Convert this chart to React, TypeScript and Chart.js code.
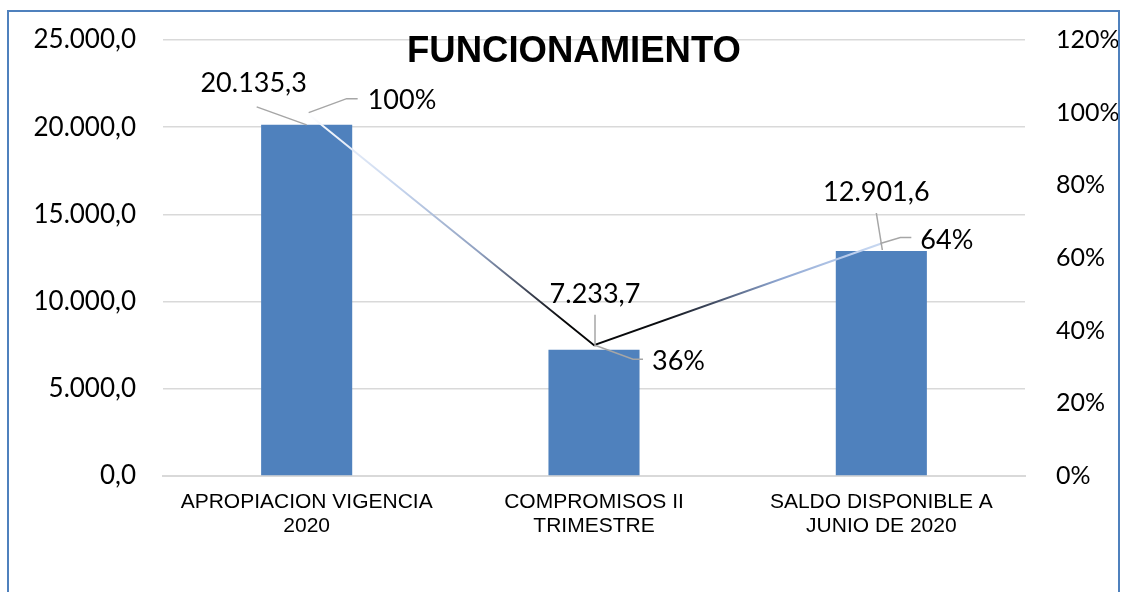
import React, { useEffect, useRef } from 'react';
import { Chart, registerables } from 'chart.js';

Chart.register(...registerables);

// ---- data ----
const categories: string[][] = [
  ['APROPIACION VIGENCIA', '2020'],
  ['COMPROMISOS II', 'TRIMESTRE'],
  ['SALDO DISPONIBLE A', 'JUNIO DE 2020'],
];
const amounts: number[] = [20135.3, 7233.7, 12901.6];
const percents: number[] = [100, 36, 64];
const chartTitle = 'FUNCIONAMIENTO';
const leftAxisMax = 25000;
const leftAxisStep = 5000;
const rightAxisMax = 120;
const rightAxisStep = 20;

// ---- styles / label placement ----
const BAR_COLOR = '#4F81BD';
const GRID_COLOR = '#D9D9D9';
const LEADER_COLOR = '#A6A6A6';
const NUM_FONT = 'Lato, "Open Sans", sans-serif';
const CAT_FONT = '"Liberation Sans", Arial, sans-serif';

const barLabelPlace = [
  { dx: -53, dy: -33, lead: [[-50, -18], [0, 0]] },
  { dx: 1, dy: -47, lead: [[1, -35], [1, -3]] },
  { dx: -5, dy: -50, lead: [[-5, -38], [1, -1]] },
];
const pctLabelPlace = [
  { dx: 61, dy: -4, lead: [[2, 0], [40, -14], [51, -14]] },
  { dx: 58, dy: 25, lead: [[1, 0], [39, 14], [49, 14]] },
  { dx: 39, dy: 6, lead: [[-1, 0], [19, -6], [30, -6]] },
];

function fmtEs(v: number, dec: number): string {
  const [i, d] = v.toFixed(dec).split('.');
  const ip = i.replace(/\B(?=(\d{3})+(?!\d))/g, '.');
  return d ? ip + ',' + d : ip;
}

const labelPlugin = {
  id: 'customLabels',
  afterDatasetsDraw(chart: any) {
    const ctx = chart.ctx as CanvasRenderingContext2D;
    const xs = chart.scales.x;
    const yl = chart.scales.y;
    const yr = chart.scales.y1;
    ctx.save();
    ctx.strokeStyle = LEADER_COLOR;
    ctx.lineWidth = 1.5;
    ctx.fillStyle = '#000';
    ctx.textBaseline = 'alphabetic';
    ctx.font = `27px ${NUM_FONT}`;
    amounts.forEach((v, i) => {
      const px = xs.getPixelForValue(i);
      const py = yl.getPixelForValue(v);
      const o = barLabelPlace[i];
      ctx.beginPath();
      o.lead.forEach(([lx, ly], k) => (k ? ctx.lineTo(px + lx, py + ly) : ctx.moveTo(px + lx, py + ly)));
      ctx.stroke();
      ctx.textAlign = 'center';
      ctx.fillText(fmtEs(v, 1), px + o.dx, py + o.dy);
    });
    percents.forEach((v, i) => {
      const px = xs.getPixelForValue(i);
      const py = yr.getPixelForValue(v);
      const o = pctLabelPlace[i];
      ctx.beginPath();
      o.lead.forEach(([lx, ly], k) => (k ? ctx.lineTo(px + lx, py + ly) : ctx.moveTo(px + lx, py + ly)));
      ctx.stroke();
      ctx.textAlign = 'left';
      ctx.fillText(`${Math.round(v)}%`, px + o.dx, py + o.dy);
    });
    ctx.restore();
  },
  afterDraw(chart: any) {
    const ctx = chart.ctx as CanvasRenderingContext2D;
    ctx.save();
    ctx.font = `bold 36.5px ${CAT_FONT}`;
    ctx.fillStyle = '#000';
    ctx.textAlign = 'center';
    ctx.textBaseline = 'alphabetic';
    ctx.fillText(chartTitle, 565, 50);
    ctx.restore();
  },
};

function lineGradient(context: any) {
  const chart = context.chart;
  const xs = chart.scales?.x;
  if (!chart.chartArea || !xs) return '#000';
  const x0 = xs.getPixelForValue(0);
  const x2 = xs.getPixelForValue(categories.length - 1);
  const g = chart.ctx.createLinearGradient(x0, 0, x2, 0);
  g.addColorStop(0, '#FFFFFF');
  g.addColorStop(0.16, '#C6D5EE');
  g.addColorStop(0.3, '#8FA0C0');
  g.addColorStop(0.39, '#3A4050');
  g.addColorStop(0.45, '#050505');
  g.addColorStop(0.62, '#0A0C10');
  g.addColorStop(0.72, '#4A5670');
  g.addColorStop(0.82, '#8DA5D0');
  g.addColorStop(0.95, '#BCCFEE');
  g.addColorStop(1, '#C8D8F0');
  return g;
}

function noVerticalPad(scale: any) {
  scale.paddingTop = 0;
  scale.paddingBottom = 0;
}

export default function App() {
  const ref = useRef<HTMLCanvasElement | null>(null);

  useEffect(() => {
    if (!ref.current) return;
    const chart = new Chart(ref.current, {
      type: 'bar',
      data: {
        labels: categories,
        datasets: [
          {
            type: 'line',
            label: 'pct',
            data: percents,
            yAxisID: 'y1',
            borderColor: lineGradient,
            borderWidth: 2,
            pointRadius: 0,
            tension: 0,
            fill: false,
            order: 0,
          } as any,
          {
            type: 'bar',
            label: 'amount',
            data: amounts,
            yAxisID: 'y',
            backgroundColor: BAR_COLOR,
            borderWidth: 0,
            categoryPercentage: 1,
            barPercentage: 0.317,
            order: 1,
          },
        ],
      },
      options: {
        responsive: false,
        animation: false,
        devicePixelRatio: 1,
        layout: { padding: { top: 28, left: 0, right: 0, bottom: 0 } },
        plugins: {
          legend: { display: false },
          tooltip: { enabled: false },
          title: { display: false },
        },
        scales: {
          x: {
            offset: true,
            grid: { display: false, drawTicks: false },
            border: { display: true, color: GRID_COLOR, width: 2 },
            ticks: {
              color: '#000',
              padding: 14,
              maxRotation: 0,
              autoSkip: false,
              font: { family: CAT_FONT, size: 21, lineHeight: 1.15 },
            },
            afterFit(scale: any) {
              scale.height = 116;
            },
          },
          y: {
            position: 'left',
            min: 0,
            max: leftAxisMax,
            grid: { color: GRID_COLOR, lineWidth: 1.5, drawTicks: false },
            border: { display: false },
            ticks: {
              stepSize: leftAxisStep,
              color: '#000',
              padding: 27,
              font: { family: NUM_FONT, size: 26 },
              callback: (v: any) => fmtEs(Number(v), 1),
            },
            afterFit(scale: any) {
              scale.width = 154;
              noVerticalPad(scale);
            },
          },
          y1: {
            position: 'right',
            min: 0,
            max: rightAxisMax,
            grid: { display: false, drawTicks: false },
            border: { display: false },
            ticks: {
              stepSize: rightAxisStep,
              color: '#000',
              padding: 31,
              font: { family: NUM_FONT, size: 25 },
              callback: (v: any) => `${v}%`,
            },
            afterFit(scale: any) {
              scale.width = 93;
              noVerticalPad(scale);
            },
          },
        },
      },
      plugins: [labelPlugin],
    });
    return () => chart.destroy();
  }, []);

  return (
    <div
      style={{
        position: 'fixed',
        left: 7,
        top: 10,
        width: 1113,
        height: 582,
        boxSizing: 'border-box',
        borderLeft: '2px solid #4F81BD',
        borderRight: '2px solid #4F81BD',
        borderTop: '2px solid #4F81BD',
        background: '#fff',
      }}
    >
      <canvas ref={ref} width={1109} height={580} style={{ display: 'block' }} />
    </div>
  );
}
